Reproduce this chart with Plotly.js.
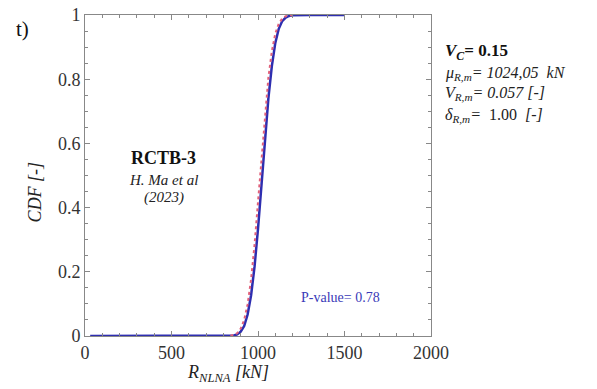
<!DOCTYPE html>
<html>
<head>
<meta charset="utf-8">
<script src="https://cdn.plot.ly/plotly-3.0.1.min.js"></script>
<style>html,body{margin:0;padding:0;background:#fff;}#chart{width:597px;height:389px;}</style>
</head>
<body>
<div id="chart"></div>
<script>
// Empirical / simulated CDF (blue solid)
const blueX = [30, 200, 400, 600, 800, 860, 880, 900, 920, 940, 960, 980, 1000, 1020, 1040, 1060, 1080, 1100, 1120, 1140, 1160, 1180, 1200, 1250, 1300, 1400, 1500];
const blueY = [0, 0, 0, 0, 0, 0.0017, 0.005, 0.0135, 0.031, 0.067, 0.127, 0.216, 0.334, 0.472, 0.613, 0.740, 0.841, 0.913, 0.957, 0.981, 0.992, 0.997, 0.999, 1, 1, 1, 1];
// Fitted distribution CDF (red dashed)
const redX = [840, 860, 880, 900, 920, 940, 960, 980, 1000, 1020, 1040, 1060, 1080, 1100, 1120, 1140, 1160, 1180, 1200];
const redY = [0.001, 0.0034, 0.009, 0.023, 0.050, 0.099, 0.176, 0.284, 0.417, 0.556, 0.691, 0.805, 0.887, 0.942, 0.973, 0.989, 0.996, 0.9987, 1];
const xTicks = [0, 500, 1000, 1500, 2000];
const yTicks = [0, 0.2, 0.4, 0.6, 0.8, 1];
const yTickText = ['0', '0.2', '0.4', '0.6', '0.8', '1'];

const serif = "'Liberation Serif', Tinos, 'Times New Roman', 'DejaVu Serif', serif";
const axisCommon = {
  showgrid: false, zeroline: false, showline: true, linecolor: '#888', linewidth: 1,
  mirror: 'ticks', ticks: 'inside', ticklen: 5, tickcolor: '#888', tickwidth: 1,
  tickfont: {family: serif, size: 18, color: '#333'}
};

const data = [
  {x: blueX, y: blueY, type: 'scatter', mode: 'lines', line: {color: '#2e2eb0', width: 2.5}, hoverinfo: 'skip'},
  {x: redX, y: redY, type: 'scatter', mode: 'lines', line: {color: '#e0607a', width: 2, dash: 'dot'}, hoverinfo: 'skip'}
];

const ann = (text, x, y, size, extra) => Object.assign({
  text: text, xref: 'paper', yref: 'paper', x: x, y: y, xanchor: 'center', yanchor: 'middle',
  showarrow: false, font: {family: serif, size: size, color: '#222'}
}, extra || {});

const layout = {
  width: 597, height: 389,
  margin: {l: 85, r: 166, t: 15, b: 53},
  paper_bgcolor: '#fff', plot_bgcolor: '#fff',
  showlegend: false,
  font: {family: serif},
  xaxis: Object.assign({}, axisCommon, {
    range: [0, 2000], tickvals: xTicks, ticktext: xTicks.map(String),
    minor: {dtick: 100, ticks: 'inside', ticklen: 3, tickcolor: '#888'}
  }),
  yaxis: Object.assign({}, axisCommon, {
    range: [0, 1], tickvals: yTicks, ticktext: yTickText,
    minor: {dtick: 0.05, ticks: 'inside', ticklen: 3, tickcolor: '#888'}
  }),
  annotations: [
    ann('<i>R<sub>NLNA</sub> [kN]</i>', 0.413, -0.118, 18),
    ann('<i>CDF [-]</i>', -0.145, 0.45, 18, {textangle: -90}),
    ann('t)', -0.205, 0.957, 21, {xanchor: 'left', font: {family: serif, size: 21, color: '#111'}}),
    ann('<b>RCTB-3</b>', 0.228, 0.555, 18, {font: {family: serif, size: 18, color: '#111'}}),
    ann('<i>H. Ma et al</i>', 0.228, 0.486, 15),
    ann('<i>(2023)</i>', 0.228, 0.43, 15),
    ann('<b><i>V<sub>C</sub></i>= 0.15</b>', 1.035, 0.885, 17, {xanchor: 'left', font: {family: serif, size: 17, color: '#111'}}),
    ann('<i>μ<sub>R,m</sub>= 1024,05  kN</i>', 1.035, 0.819, 16, {xanchor: 'left'}),
    ann('<i>V<sub>R,m</sub>= 0.057 [-]</i>', 1.035, 0.757, 16, {xanchor: 'left'}),
    ann('<i>δ<sub>R,m</sub>=</i>  1.00  <i>[-]</i>', 1.035, 0.688, 16, {xanchor: 'left'}),
    ann('P-value= 0.78', 0.858, 0.121, 14, {xanchor: 'right', font: {family: serif, size: 14, color: '#3a3ab8'}})
  ]
};

Plotly.newPlot('chart', data, layout, {staticPlot: true, displayModeBar: false});
</script>
</body>
</html>
